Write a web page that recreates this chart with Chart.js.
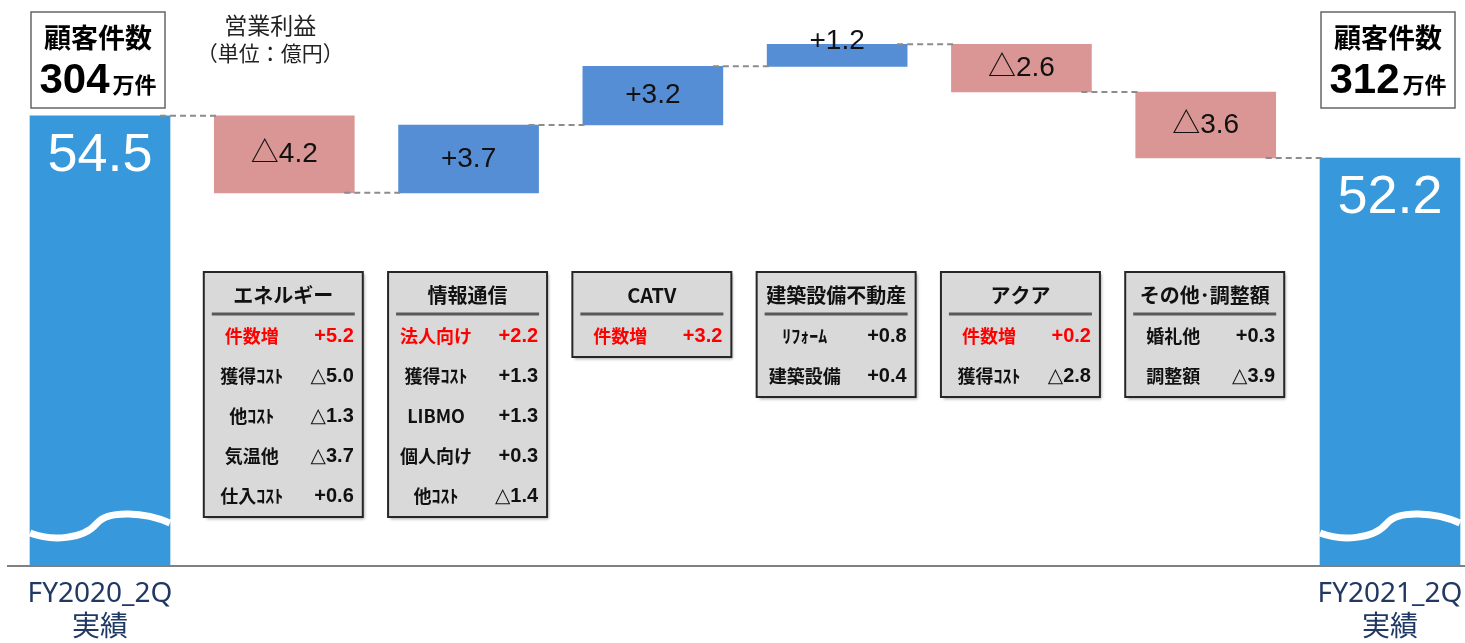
<!DOCTYPE html>
<html lang="ja">
<head>
<meta charset="utf-8">
<title>営業利益 増減</title>
<script src="https://cdn.jsdelivr.net/npm/chart.js@4.4.1/dist/chart.umd.min.js"></script>
<style>
  html, body { margin: 0; padding: 0; background: #fff; }
  #wrap { width: 1465px; height: 643px; position: relative; }
</style>
</head>
<body>
<div id="wrap"><canvas id="grafico"></canvas></div>
<script>
// categories (only the two totals carry an x label)
const categories = [['FY2020_2Q', '実績'], '', '', '', '', '', '', ['FY2021_2Q', '実績']];
const startValue = 54.5;
const deltas = [-4.2, 3.7, 3.2, 1.2, -2.6, -3.6];
const endValue = 52.2;
const customers = [304, 312];   // 万件
const axisMin = 30;
const axisMax = 60;

// breakdown tables under each delta bar
const segments = ['エネルギー', '情報通信', 'CATV', '建築設備不動産', 'アクア', 'その他･調整額'];
const itemLabels = [
  ['件数増', '獲得ｺｽﾄ', '他ｺｽﾄ', '気温他', '仕入ｺｽﾄ'],
  ['法人向け', '獲得ｺｽﾄ', 'LIBMO', '個人向け', '他ｺｽﾄ'],
  ['件数増'],
  ['ﾘﾌｫｰﾑ', '建築設備'],
  ['件数増', '獲得ｺｽﾄ'],
  ['婚礼他', '調整額']
];
const itemValues = [
  [5.2, -5.0, -1.3, -3.7, 0.6],
  [2.2, 1.3, 1.3, 0.3, -1.4],
  [3.2],
  [0.8, 0.4],
  [0.2, -2.8],
  [0.3, -3.9]
];
const firstRowRed = [true, true, true, false, true, false];

const fmt = v => (v < 0 ? '△' : '+') + Math.abs(v).toFixed(1);

// floating bars built from the values
const floating = [[axisMin, startValue]];
let running = startValue;
deltas.forEach(d => {
  floating.push([running, +(running + d).toFixed(1)]);
  running = +(running + d).toFixed(1);
});
floating.push([axisMin, endValue]);

const colors = ['#3799db'].concat(deltas.map(d => d < 0 ? '#d99694' : '#558ed5'), ['#3799db']);
const barTexts = [startValue.toFixed(1)].concat(deltas.map(fmt), [endValue.toFixed(1)]);

function drawWave(ctx, bar, bottom) {
  const L = bar.x - bar.width / 2, W = bar.width;
  ctx.save();
  ctx.strokeStyle = '#fff';
  ctx.lineWidth = 7;
  ctx.beginPath();
  ctx.moveTo(L, bottom - 32);
  ctx.bezierCurveTo(L + 0.15 * W, bottom - 24, L + 0.38 * W, bottom - 25, L + 0.48 * W, bottom - 42);
  ctx.bezierCurveTo(L + 0.56 * W, bottom - 55, L + 0.82 * W, bottom - 53, L + W, bottom - 42);
  ctx.stroke();
  ctx.restore();
}

function drawTable(ctx, cx, i) {
  const w = 159, top = 272, n = itemLabels[i].length;
  const h = 85 + (n - 1) * 40;
  const left = cx - w / 2, right = cx + w / 2;
  ctx.save();
  ctx.shadowColor = 'rgba(0,0,0,0.35)';
  ctx.shadowOffsetX = 2;
  ctx.shadowOffsetY = 2;
  ctx.shadowBlur = 3;
  ctx.fillStyle = '#d9d9d9';
  ctx.fillRect(left, top, w, h);
  ctx.restore();
  ctx.save();
  ctx.strokeStyle = '#262626';
  ctx.lineWidth = 2;
  ctx.strokeRect(left, top, w, h);
  ctx.strokeStyle = '#595959';
  ctx.lineWidth = 3;
  ctx.beginPath();
  ctx.moveTo(left + 8, top + 42);
  ctx.lineTo(right - 8, top + 42);
  ctx.stroke();
  ctx.fillStyle = '#111';
  ctx.textBaseline = 'middle';
  ctx.textAlign = 'center';
  ctx.font = 'bold 20px "Noto Sans CJK JP"';
  ctx.fillText(segments[i], cx, top + 23);
  itemLabels[i].forEach((lab, r) => {
    const y = top + 64 + r * 40;
    ctx.fillStyle = (r === 0 && firstRowRed[i]) ? '#ff0000' : '#111';
    ctx.textAlign = 'center';
    ctx.font = 'bold 18px "Noto Sans CJK JP"';
    ctx.fillText(lab, left + 48, y);
    ctx.textAlign = 'right';
    ctx.font = 'bold 20px "Liberation Sans", "DejaVu Sans"';
    ctx.fillText(fmt(itemValues[i][r]), right - 9, y);
  });
  ctx.restore();
}

function drawCustomerBox(ctx, cx, count) {
  ctx.save();
  ctx.fillStyle = '#fff';
  ctx.fillRect(cx - 67, 12, 134, 96);
  ctx.strokeStyle = '#666';
  ctx.lineWidth = 1.5;
  ctx.strokeRect(cx - 67, 12, 134, 96);
  ctx.fillStyle = '#000';
  ctx.textAlign = 'center';
  ctx.textBaseline = 'middle';
  ctx.font = 'bold 27px "Noto Sans CJK JP"';
  ctx.fillText('顧客件数', cx, 38);
  ctx.textBaseline = 'alphabetic';
  ctx.font = 'bold 42px "Liberation Sans"';
  const numW = ctx.measureText(String(count)).width;
  ctx.font = 'bold 22px "Noto Sans CJK JP"';
  const unitW = ctx.measureText('万件').width;
  const x0 = cx - (numW + 3 + unitW) / 2;
  ctx.textAlign = 'left';
  ctx.font = 'bold 42px "Liberation Sans"';
  ctx.fillText(String(count), x0, 93);
  ctx.font = 'bold 22px "Noto Sans CJK JP"';
  ctx.fillText('万件', x0 + numW + 3, 93);
  ctx.restore();
}

const decor = {
  id: 'decor',
  afterDatasetsDraw(chart) {
    const ctx = chart.ctx;
    const bars = chart.getDatasetMeta(0).data;
    const yScale = chart.scales.y;
    const bottom = yScale.bottom;

    // dashed connectors
    ctx.save();
    ctx.strokeStyle = '#8c8c8c';
    ctx.lineWidth = 2;
    ctx.setLineDash([6, 4]);
    for (let i = 0; i < bars.length - 1; i++) {
      const lv = yScale.getPixelForValue(floating[i][1]);
      const a = bars[i], b = bars[i + 1];
      ctx.beginPath();
      ctx.moveTo(a.x + a.width / 2 - 10, lv);
      ctx.lineTo(b.x - b.width / 2 + 5, lv);
      ctx.stroke();
    }
    ctx.restore();

    // waves on the two totals
    drawWave(ctx, bars[0], bottom);
    drawWave(ctx, bars[bars.length - 1], bottom);

    // baseline
    ctx.save();
    ctx.strokeStyle = '#808080';
    ctx.lineWidth = 2;
    ctx.beginPath();
    ctx.moveTo(7, bottom + 1);
    ctx.lineTo(chart.width, bottom + 1);
    ctx.stroke();
    ctx.restore();

    // bar labels
    ctx.save();
    ctx.textAlign = 'center';
    ctx.textBaseline = 'middle';
    bars.forEach((bar, i) => {
      const top = Math.min(bar.y, bar.base);
      if (i === 0 || i === bars.length - 1) {
        ctx.fillStyle = '#fff';
        ctx.font = '54px "Liberation Sans"';
        ctx.fillText(barTexts[i], bar.x, top + 40);
      } else {
        const hgt = Math.abs(bar.base - bar.y);
        ctx.fillStyle = '#111';
        ctx.font = '28px "Liberation Sans", "Noto Sans CJK JP"';
        ctx.fillText(barTexts[i], bar.x, hgt < 30 ? top - 3 : top + hgt / 2);
      }
    });
    ctx.restore();

    // customer boxes, unit note, breakdown tables
    drawCustomerBox(ctx, bars[0].x - 2, customers[0]);
    drawCustomerBox(ctx, bars[bars.length - 1].x - 2, customers[1]);

    ctx.save();
    ctx.fillStyle = '#222';
    ctx.textAlign = 'center';
    ctx.textBaseline = 'middle';
    ctx.font = '23px "Noto Sans CJK JP"';
    ctx.fillText('営業利益', bars[1].x - 14, 25);
    ctx.font = '21px "Noto Sans CJK JP"';
    ctx.fillText('（単位：億円）', bars[1].x - 14, 53);
    ctx.restore();

    for (let i = 0; i < segments.length; i++) {
      drawTable(ctx, bars[i + 1].x - 1, i);
    }
  }
};

const ctx = document.getElementById('grafico').getContext('2d');
const grafico = new Chart(ctx, {
  type: 'bar',
  data: {
    labels: categories,
    datasets: [{
      data: floating,
      backgroundColor: colors,
      borderWidth: 0,
      barThickness: 140,
      clip: false
    }]
  },
  options: {
    animation: false,
    responsive: true,
    maintainAspectRatio: false,
    layout: { padding: { left: 100, right: 75, top: 15, bottom: 0 } },
    scales: {
      x: {
        offset: false,
        grid: { display: false, drawTicks: false },
        border: { display: false },
        ticks: {
          autoSkip: false,
          maxRotation: 0,
          padding: 12,
          color: '#1f3864',
          font: { family: '"Noto Sans", "Noto Sans CJK JP"', size: 28, lineHeight: 1.21 }
        },
        afterFit(scale) {
          scale.height = 78;
          scale.paddingLeft = 0;
          scale.paddingRight = 0;
        }
      },
      y: {
        display: false,
        min: axisMin,
        max: axisMax
      }
    },
    plugins: {
      legend: { display: false },
      tooltip: { enabled: false }
    }
  },
  plugins: [decor]
});
</script>
</body>
</html>
